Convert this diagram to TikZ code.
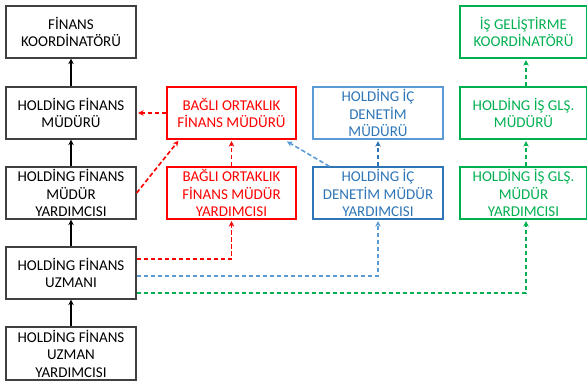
\documentclass[tikz,border=0pt]{standalone}
\usepackage{fontspec}
\setmainfont{Carlito}
\usetikzlibrary{arrows.meta}
\definecolor{denblue}{HTML}{2E75B6}
\definecolor{denlight}{HTML}{5B9BD5}
\definecolor{isgreen}{HTML}{00B050}
\tikzset{
  unit/.style={draw=black!75, line width=1.3pt, minimum width=130pt,
    minimum height=52pt, inner sep=0pt, align=center,
    font=\fontsize{15}{17.5}\selectfont},
  up/.style={-{Stealth[length=5.5pt,width=5.5pt]}, line width=1.6pt},
  link/.style={-{Stealth[length=5.5pt,width=5.5pt]}, line width=1.6pt,
    dash pattern=on 4.5pt off 2.5pt, shorten >=1.5pt}
}
\begin{document}
\begin{tikzpicture}[x=1pt,y=-1pt]
  \useasboundingbox (0,0) rectangle (587,381);
  % holding finans
  \node[unit] (fk) at (71,32) {FİNANS\\KOORDİNATÖRÜ};
  \node[unit] (hfm) at (71,113) {HOLDİNG FİNANS\\MÜDÜRÜ};
  \node[unit] (hfmy) at (71,193) {HOLDİNG FİNANS\\MÜDÜR\\YARDIMCISI};
  \node[unit] (hfu) at (71,273) {HOLDİNG FİNANS\\UZMANI};
  \node[unit, minimum height=53pt] (hfuy) at (71,353.5) {HOLDİNG FİNANS\\UZMAN\\YARDIMCISI};
  % bagli ortaklik
  \node[unit, draw=red, text=red, minimum width=129pt] (bofm) at (231.5,113) {BAĞLI ORTAKLIK\\FİNANS MÜDÜRÜ};
  \node[unit, draw=red, text=red, minimum width=129pt] (bofmy) at (231.5,193) {BAĞLI ORTAKLIK\\FİNANS MÜDÜR\\YARDIMCISI};
  % ic denetim
  \node[unit, draw=denlight, text=denblue] (hidm) at (378,113) {HOLDİNG İÇ\\DENETİM\\MÜDÜRÜ};
  \node[unit, draw=denblue, text=denblue] (hidmy) at (378,193) {HOLDİNG İÇ\\DENETİM MÜDÜR\\YARDIMCISI};
  % is gelistirme
  \node[unit, draw=isgreen, text=isgreen, minimum width=127pt] (igk) at (523.5,32) {İŞ GELİŞTİRME\\KOORDİNATÖRÜ};
  \node[unit, draw=isgreen, text=isgreen, minimum width=127pt] (higm) at (523.5,113) {HOLDİNG İŞ GLŞ.\\MÜDÜRÜ};
  \node[unit, draw=isgreen, text=isgreen, minimum width=127pt] (higmy) at (523.5,193) {HOLDİNG İŞ GLŞ.\\MÜDÜR\\YARDIMCISI};

  \draw[up] (hfm) -- (fk);
  \draw[up] (hfmy) -- (hfm);
  \draw[up] (hfu) -- (hfmy);
  \draw[up] (hfuy) -- (hfu);

  \draw[link, red] (bofm) -- (hfm);
  \draw[link, red] (hfmy.east) -- ([xshift=13pt]bofm.south west);
  \draw[link, red] (bofmy) -- (bofm);
  \draw[link, red] ([yshift=14pt]hfu.east) -| (bofmy);
  \draw[link, denlight] ([yshift=-3pt]hfu.east) -| (hidmy);
  \draw[link, isgreen] ([yshift=-20pt]hfu.east) -| ([xshift=2.5pt]higmy.south);
  \draw[link, denlight] ([xshift=17pt]hidmy.north west) -- ([xshift=-11pt,yshift=-1pt]bofm.south east);
  \draw[link, denblue] (hidmy) -- (hidm);
  \draw[link, isgreen] ([xshift=2.5pt]higmy.north) -- ([xshift=2.5pt]higm.south);
  \draw[link, isgreen] ([xshift=2.5pt]higm.north) -- ([xshift=2.5pt]igk.south);
\end{tikzpicture}
\end{document}
